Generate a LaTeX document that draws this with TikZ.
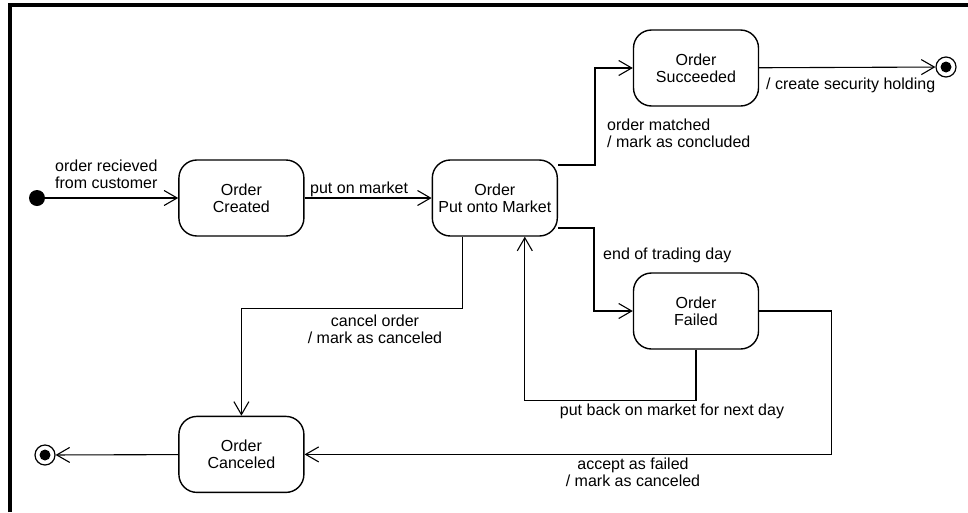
\documentclass[tikz,border=0pt]{standalone}
\usepackage{fontspec}
\setmainfont{Liberation Sans}
\usetikzlibrary{arrows.meta, positioning}

\begin{document}
\begin{tikzpicture}[x=1pt, y=-1pt,
          state/.style={draw, line width=1.4pt, rounded corners=18pt,
              minimum width=125pt, minimum height=76pt,
              font=\fontsize{16}{17}\selectfont, align=center},
          lbl/.style={font=\fontsize{16}{17}\selectfont, inner sep=0pt},
          arr/.style={-{Straight Barb[length=13pt, width=15pt]}, line width=1.1pt},
          initdot/.style={circle, fill, minimum size=16pt, inner sep=0pt},
          finaldot/.style={circle, draw, line width=1.2pt, minimum size=20pt, inner sep=0pt,
              path picture={\fill (path picture bounding box.center) circle (5.5pt);}}
        ]
        \useasboundingbox (0,0) rectangle (968,512);
        \draw[line width=4pt] (10,512) -- (10,5) -- (968,5);
        % states
        \node[initdot] (init) at (37,198) {};
        \node[state, right=133pt of init] (created) {Order\\Created};
        \node[state, right=127pt of created] (market) {Order\\Put onto Market};
        \node[state] (succeeded) at (696,68) {Order\\Succeeded};
        \node[state] (failed) at (696,311) {Order\\Failed};
        \node[state, below=179pt of created] (canceled) {Order\\Canceled};
        \node[finaldot] (endok) at (946,67) {};
        \node[finaldot] (endcancel) at (45,455) {};
        % transitions
        \draw[arr] (init) -- (created);
        \draw[arr] (created) -- (market);
        \draw[arr] ([yshift=33pt]market.east) -- ++(37,0) |- (succeeded.west);
        \draw[arr] (succeeded) -- (endok);
        \draw[arr] ([yshift=-30pt]market.east) -- ++(36,0) |- (failed.west);
        \draw[arr] (failed.south) -- ++(0,51) -| ([xshift=30pt]market.south);
        \draw[arr] ([xshift=-32pt]market.south) -- ++(0,72) -| (canceled.north);
        \draw[arr] (failed.east) -- ++(72,0) |- (canceled.east);
        \draw[arr] (canceled) -- (endcancel);
        % labels
        \node[lbl, align=left, anchor=south west] (recvlbl) at (55,189) {order recieved\\from customer};
        \node[lbl, anchor=south west] (putlbl) at (310,197) {put on market};
        \node[lbl, align=left, anchor=north west] (matchlbl) at (607,119) {order matched\\/ mark as concluded};
        \node[lbl, anchor=north west] (holdlbl) at (766,78) {/ create security holding};
        \node[lbl, anchor=west] (daylbl) at (603,255) {end of trading day};
        \node[lbl, align=center, anchor=north] (cancellbl) at (375,315) {cancel order\\/ mark as canceled};
        \node[lbl, anchor=north] (backlbl) at (672,404) {put back on market for next day};
        \node[lbl, align=center, anchor=north] (acceptlbl) at (633,458) {accept as failed\\/ mark as canceled};
      \end{tikzpicture}
\end{document}
